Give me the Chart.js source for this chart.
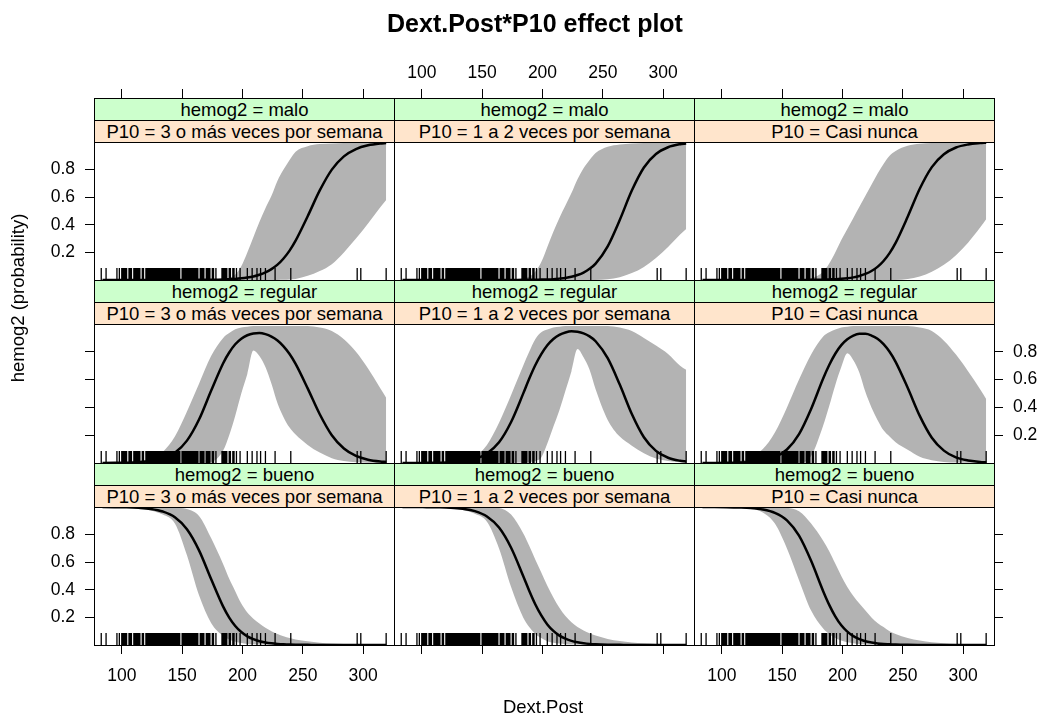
<!DOCTYPE html>
<html>
<head>
<meta charset="utf-8">
<title>Dext.Post*P10 effect plot</title>
<script src="https://cdn.jsdelivr.net/npm/chart.js@4.4.1/dist/chart.umd.min.js"></script>
<style>
    body { margin: 0; background: #fff; }
    #page {
        position: relative; width: 1044px; height: 721px; overflow: hidden; background: #fff;
        font-family: 'Liberation Sans', Arial, Helvetica, sans-serif; color: #000;
    }
    #page canvas { position: absolute; }
    .strip {
        position: absolute; box-sizing: border-box; border: 1px solid #000; text-align: center;
        font-size: 18.5px; line-height: 21px; white-space: nowrap; z-index: 2;
    }
    .strip.outer { background: #ccffcc; }
    .strip.inner { background: #ffe5cc; }
    #mainTitle {
        position: absolute; left: 285px; top: 8px; width: 500px; text-align: center;
        font-weight: bold; font-size: 25px; line-height: 30px; z-index: 3;
    }
    #xTitle {
        position: absolute; left: 393px; top: 696px; width: 300px; text-align: center;
        font-size: 18.5px; line-height: 22px; z-index: 3;
    }
    #yTitle {
        position: absolute; left: -132px; top: 287px; width: 300px; height: 22px; text-align: center;
        font-size: 18.5px; line-height: 22px; transform: rotate(-90deg); z-index: 3;
    }
</style>
</head>
<body>
<div id="page">
    <div id="mainTitle">Dext.Post*P10 effect plot</div>
    <div id="xTitle">Dext.Post</div>
    <div id="yTitle">hemog2 (probability)</div>
</div>
<script>
// Dext.Post values where the fitted probabilities were read
const dextPost = [84, 94, 104, 114, 124, 134, 144, 154, 164, 174, 184, 189, 194, 199, 204, 209, 214, 219, 224, 229, 234, 239, 244, 254, 264, 274, 284, 294, 304, 314, 319];

// observed Dext.Post values (rug)
const rugDextPost = [83, 87, 96, 98, 100, 101, 102, 103, 104, 106, 107, 108, 110, 111, 112, 113, 114, 115, 117, 118, 120, 121, 122,
    123, 124, 125, 126, 127, 128, 129, 130, 131, 132, 133, 134, 135, 136, 137, 138, 139, 140, 141, 142, 143, 144, 145, 146, 147, 148,
    150, 151, 152, 153, 154, 155, 156, 157, 158, 159, 160, 161, 162, 163, 165, 166, 167, 168, 170, 171, 172, 173, 175, 176, 178,
    183, 184, 185, 186, 187, 189, 190, 192, 193, 195, 198, 204, 208, 212, 215, 219, 227, 240, 295, 298, 319];

const xTicks = [100, 150, 200, 250, 300];
const yTicks = [0.2, 0.4, 0.6, 0.8];
const xLimits = [77, 325.5];
const yLimits = [0, 1];

const hemogLevels = ['malo', 'regular', 'bueno'];
const p10Levels = ['3 o más veces por semana', '1 a 2 veces por semana', 'Casi nunca'];

// hemog2 = malo
const fitMalo3mas = [0, 0, 0, 0, 0, 0, 0, 0, 0.001, 0.002, 0.004, 0.006, 0.008, 0.012, 0.018, 0.026, 0.038, 0.055, 0.079, 0.111, 0.156, 0.213, 0.285, 0.462, 0.649, 0.800, 0.896, 0.949, 0.976, 0.989, 0.992];
const lowerMalo3mas = [0, 0, 0, 0, 0, 0, 0, 0, 0, 0, 0, 0, 0, 0, 0, 0, 0, 0, 0, 0, 0.001, 0.004, 0.008, 0.03, 0.065, 0.115, 0.2, 0.3, 0.41, 0.525, 0.58];
const upperMalo3mas = [0, 0, 0, 0, 0, 0, 0, 0, 0.001, 0.003, 0.008, 0.015, 0.04, 0.1, 0.2, 0.31, 0.42, 0.52, 0.61, 0.72, 0.8, 0.87, 0.93, 0.97, 0.985, 0.99, 0.993, 0.995, 0.996, 0.997, 0.997];

const fitMalo1a2 = [0, 0, 0, 0, 0, 0, 0, 0, 0, 0, 0.001, 0.001, 0.002, 0.003, 0.004, 0.006, 0.01, 0.015, 0.023, 0.036, 0.054, 0.081, 0.119, 0.244, 0.435, 0.648, 0.815, 0.913, 0.962, 0.984, 0.989];
const lowerMalo1a2 = [0, 0, 0, 0, 0, 0, 0, 0, 0, 0, 0, 0, 0, 0, 0, 0, 0, 0, 0, 0, 0, 0, 0, 0.005, 0.02, 0.05, 0.095, 0.16, 0.24, 0.33, 0.37];
const upperMalo1a2 = [0, 0, 0, 0, 0, 0, 0, 0, 0, 0.002, 0.01, 0.025, 0.06, 0.13, 0.24, 0.35, 0.45, 0.54, 0.63, 0.73, 0.81, 0.87, 0.92, 0.965, 0.982, 0.99, 0.993, 0.995, 0.996, 0.997, 0.997];

const fitMaloCasi = [0, 0, 0, 0, 0, 0, 0, 0, 0, 0.001, 0.002, 0.004, 0.006, 0.009, 0.013, 0.019, 0.029, 0.044, 0.065, 0.095, 0.138, 0.195, 0.269, 0.458, 0.661, 0.818, 0.911, 0.96, 0.982, 0.992, 0.995];
const lowerMaloCasi = [0, 0, 0, 0, 0, 0, 0, 0, 0, 0, 0, 0, 0, 0, 0, 0, 0, 0, 0, 0, 0, 0, 0, 0.008, 0.025, 0.06, 0.11, 0.18, 0.27, 0.38, 0.44];
const upperMaloCasi = [0, 0, 0, 0, 0, 0, 0, 0, 0.002, 0.012, 0.06, 0.12, 0.2, 0.29, 0.37, 0.45, 0.53, 0.61, 0.69, 0.77, 0.84, 0.9, 0.935, 0.972, 0.987, 0.992, 0.994, 0.995, 0.996, 0.997, 0.997];

// hemog2 = regular
const fitRegular3mas = [0, 0.001, 0.002, 0.006, 0.014, 0.033, 0.074, 0.161, 0.313, 0.52, 0.718, 0.795, 0.854, 0.894, 0.919, 0.932, 0.935, 0.927, 0.909, 0.881, 0.839, 0.784, 0.713, 0.537, 0.351, 0.2, 0.104, 0.051, 0.024, 0.011, 0.008];
const lowerRegular3mas = [0, 0, 0, 0, 0, 0, 0, 0, 0, 0.008, 0.09, 0.2, 0.34, 0.5, 0.64, 0.81, 0.77, 0.69, 0.57, 0.43, 0.33, 0.255, 0.205, 0.13, 0.075, 0.035, 0.015, 0.006, 0.002, 0.001, 0];
const upperRegular3mas = [0, 0.002, 0.005, 0.012, 0.03, 0.08, 0.19, 0.37, 0.57, 0.77, 0.9, 0.935, 0.962, 0.975, 0.98, 0.985, 0.985, 0.985, 0.985, 0.985, 0.985, 0.985, 0.985, 0.985, 0.975, 0.95, 0.89, 0.8, 0.68, 0.54, 0.47];

const fitRegular1a2 = [0, 0, 0.001, 0.002, 0.005, 0.013, 0.03, 0.069, 0.149, 0.295, 0.499, 0.606, 0.703, 0.783, 0.847, 0.892, 0.922, 0.939, 0.947, 0.944, 0.933, 0.911, 0.876, 0.754, 0.564, 0.352, 0.185, 0.087, 0.038, 0.016, 0.011];
const lowerRegular1a2 = [0, 0, 0, 0, 0, 0, 0, 0, 0, 0, 0.003, 0.008, 0.015, 0.04, 0.14, 0.26, 0.38, 0.52, 0.66, 0.82, 0.76, 0.67, 0.53, 0.31, 0.19, 0.125, 0.07, 0.033, 0.015, 0.006, 0.004];
const upperRegular1a2 = [0, 0.001, 0.002, 0.004, 0.007, 0.017, 0.045, 0.13, 0.29, 0.49, 0.7, 0.8, 0.89, 0.94, 0.96, 0.975, 0.98, 0.985, 0.985, 0.985, 0.985, 0.985, 0.985, 0.985, 0.975, 0.95, 0.9, 0.845, 0.785, 0.7, 0.67];

const fitRegularCasi = [0, 0, 0.001, 0.003, 0.007, 0.018, 0.043, 0.097, 0.208, 0.389, 0.608, 0.705, 0.786, 0.848, 0.89, 0.917, 0.929, 0.929, 0.917, 0.894, 0.855, 0.8, 0.728, 0.541, 0.339, 0.182, 0.089, 0.04, 0.018, 0.008, 0.005];
const lowerRegularCasi = [0, 0, 0, 0, 0, 0, 0, 0, 0, 0.05, 0.27, 0.41, 0.56, 0.69, 0.79, 0.74, 0.65, 0.51, 0.4, 0.31, 0.235, 0.19, 0.15, 0.095, 0.045, 0.02, 0.008, 0.003, 0.001, 0, 0];
const upperRegularCasi = [0, 0.002, 0.005, 0.012, 0.04, 0.1, 0.22, 0.4, 0.6, 0.78, 0.91, 0.94, 0.96, 0.975, 0.98, 0.985, 0.985, 0.985, 0.985, 0.985, 0.985, 0.985, 0.985, 0.985, 0.975, 0.95, 0.88, 0.78, 0.66, 0.53, 0.46];

// hemog2 = bueno
const fitBueno3mas = [1, 0.999, 0.998, 0.994, 0.986, 0.967, 0.926, 0.839, 0.686, 0.478, 0.278, 0.199, 0.138, 0.094, 0.063, 0.042, 0.027, 0.018, 0.012, 0.008, 0.005, 0.003, 0.002, 0.001, 0, 0, 0, 0, 0, 0, 0];
const lowerBueno3mas = [1, 0.998, 0.995, 0.99, 0.975, 0.945, 0.88, 0.65, 0.36, 0.16, 0.065, 0.04, 0.023, 0.014, 0.008, 0.005, 0.003, 0.002, 0.001, 0, 0, 0, 0, 0, 0, 0, 0, 0, 0, 0, 0];
const upperBueno3mas = [1, 1, 1, 1, 0.999, 0.999, 0.997, 0.985, 0.935, 0.775, 0.585, 0.48, 0.39, 0.3, 0.235, 0.19, 0.155, 0.125, 0.1, 0.08, 0.063, 0.05, 0.04, 0.027, 0.017, 0.011, 0.007, 0.004, 0.003, 0.002, 0.001];

const fitBueno1a2 = [1, 1, 0.999, 0.998, 0.995, 0.987, 0.97, 0.931, 0.851, 0.705, 0.5, 0.393, 0.295, 0.214, 0.149, 0.102, 0.068, 0.046, 0.03, 0.02, 0.013, 0.008, 0.005, 0.002, 0.001, 0, 0, 0, 0, 0, 0];
const lowerBueno1a2 = [1, 0.999, 0.997, 0.995, 0.99, 0.978, 0.951, 0.893, 0.7, 0.42, 0.2, 0.13, 0.08, 0.05, 0.028, 0.017, 0.01, 0.006, 0.003, 0.002, 0.001, 0, 0, 0, 0, 0, 0, 0, 0, 0, 0];
const upperBueno1a2 = [1, 1, 1, 1, 1, 1, 1, 0.999, 0.993, 0.945, 0.81, 0.72, 0.62, 0.525, 0.43, 0.345, 0.27, 0.21, 0.165, 0.13, 0.105, 0.085, 0.068, 0.044, 0.029, 0.019, 0.012, 0.008, 0.005, 0.003, 0.002];

const fitBuenoCasi = [1, 1, 0.999, 0.997, 0.993, 0.982, 0.957, 0.903, 0.792, 0.61, 0.39, 0.291, 0.208, 0.143, 0.097, 0.064, 0.042, 0.027, 0.018, 0.011, 0.007, 0.005, 0.003, 0.001, 0, 0, 0, 0, 0, 0, 0];
const lowerBuenoCasi = [1, 0.999, 0.997, 0.993, 0.985, 0.96, 0.88, 0.7, 0.47, 0.25, 0.12, 0.08, 0.05, 0.032, 0.02, 0.012, 0.007, 0.004, 0.002, 0.001, 0, 0, 0, 0, 0, 0, 0, 0, 0, 0, 0];
const upperBuenoCasi = [1, 1, 1, 1, 1, 1, 1, 0.995, 0.97, 0.88, 0.755, 0.68, 0.59, 0.5, 0.42, 0.355, 0.3, 0.25, 0.2, 0.16, 0.13, 0.1, 0.08, 0.05, 0.032, 0.02, 0.013, 0.008, 0.005, 0.003, 0.002];

// one row of panels per hemog2 level, one column per P10 level
const panelRows = [
    { fits: [fitMalo3mas, fitMalo1a2, fitMaloCasi], lowers: [lowerMalo3mas, lowerMalo1a2, lowerMaloCasi], uppers: [upperMalo3mas, upperMalo1a2, upperMaloCasi] },
    { fits: [fitRegular3mas, fitRegular1a2, fitRegularCasi], lowers: [lowerRegular3mas, lowerRegular1a2, lowerRegularCasi], uppers: [upperRegular3mas, upperRegular1a2, upperRegularCasi] },
    { fits: [fitBueno3mas, fitBueno1a2, fitBuenoCasi], lowers: [lowerBueno3mas, lowerBueno1a2, lowerBuenoCasi], uppers: [upperBueno3mas, upperBueno1a2, upperBuenoCasi] }
];

// layout (pixels)
const cellLeft0 = 94;
const cellWidth = 300;
const cellTop0 = 98;
const cellHeight = 182.33;
const stripHeight = 22;
const margin = 70;
const tickLength = 9;
const rugLength = 12;

Chart.defaults.font.family = "'Liberation Sans', Arial, Helvetica, sans-serif";
Chart.defaults.color = '#000';

const page = document.getElementById('page');

function toPoints(values) {
    return dextPost.map((x, i) => ({ x: x, y: values[i] }));
}

// rug of observed values along the bottom of each panel
const rugPlugin = {
    id: 'rug',
    afterDatasetsDraw(chart) {
        const ctx = chart.ctx;
        const xScale = chart.scales.x;
        const bottom = chart.chartArea.bottom;
        ctx.save();
        ctx.strokeStyle = '#000';
        ctx.lineWidth = 1.3;
        ctx.beginPath();
        rugDextPost.forEach(v => {
            const px = xScale.getPixelForValue(v);
            ctx.moveTo(px, bottom);
            ctx.lineTo(px, bottom - rugLength);
        });
        ctx.stroke();
        ctx.restore();
    }
};

function makeAxis(position, limits, tickValues, showTicks, showLabels) {
    const horizontal = position === 'top' || position === 'bottom';
    return {
        type: 'linear',
        position: position,
        min: limits[0],
        max: limits[1],
        afterBuildTicks: function(scale) {
            scale.ticks = tickValues.map(v => ({ value: v }));
        },
        afterFit: function(scale) {
            if (horizontal) scale.height = margin;
            else scale.width = margin;
        },
        grid: {
            display: showTicks,
            drawOnChartArea: false,
            drawTicks: true,
            tickLength: tickLength,
            color: '#000',
            lineWidth: 1
        },
        border: { display: true, color: '#000', width: 1 },
        ticks: {
            display: showLabels,
            color: '#000',
            font: { size: 17.5 },
            padding: position === 'top' ? 5 : (position === 'bottom' ? 12 : 10),
            autoSkip: false,
            maxRotation: 0,
            minRotation: 0
        }
    };
}

function makeStrip(cls, text, left, top) {
    const div = document.createElement('div');
    div.className = 'strip ' + cls;
    div.style.left = left + 'px';
    div.style.top = top + 'px';
    div.style.width = (cellWidth + 1) + 'px';
    div.style.height = (stripHeight + 1) + 'px';
    div.textContent = text;
    page.appendChild(div);
}

function makePanel(row, col) {
    const top = Math.round(cellTop0 + row * cellHeight);
    const bottom = Math.round(cellTop0 + (row + 1) * cellHeight);
    const left = cellLeft0 + col * cellWidth;
    const h = bottom - top;
    const panelH = h - 2 * stripHeight;
    // the chart area spans strips + panel, so stretch the y range over the strips
    const yChartMax = yLimits[0] + (yLimits[1] - yLimits[0]) * h / panelH;

    const canvas = document.createElement('canvas');
    canvas.width = cellWidth + 2 * margin;
    canvas.height = h + 2 * margin;
    canvas.style.left = (left - margin) + 'px';
    canvas.style.top = (top - margin) + 'px';
    canvas.style.width = canvas.width + 'px';
    canvas.style.height = canvas.height + 'px';
    page.appendChild(canvas);

    const data = panelRows[row];

    new Chart(canvas.getContext('2d'), {
        type: 'line',
        data: {
            datasets: [
                {
                    data: toPoints(data.fits[col]),
                    borderColor: '#000',
                    borderWidth: 2.5,
                    pointRadius: 0,
                    fill: false,
                    cubicInterpolationMode: 'monotone'
                },
                {
                    data: toPoints(data.uppers[col]),
                    borderColor: 'rgba(0,0,0,0)',
                    borderWidth: 0,
                    pointRadius: 0,
                    backgroundColor: '#b3b3b3',
                    fill: '+1',
                    cubicInterpolationMode: 'monotone'
                },
                {
                    data: toPoints(data.lowers[col]),
                    borderColor: 'rgba(0,0,0,0)',
                    borderWidth: 0,
                    pointRadius: 0,
                    fill: false,
                    cubicInterpolationMode: 'monotone'
                }
            ]
        },
        options: {
            responsive: false,
            maintainAspectRatio: false,
            devicePixelRatio: 1,
            animation: false,
            events: [],
            layout: { padding: 0 },
            plugins: {
                legend: { display: false },
                tooltip: { enabled: false },
                title: { display: false }
            },
            scales: {
                x: makeAxis('bottom', xLimits, xTicks, row === 2, row === 2 && col !== 1),
                x2: makeAxis('top', xLimits, xTicks, row === 0, row === 0 && col === 1),
                y: makeAxis('left', [yLimits[0], yChartMax], yTicks, col === 0, col === 0 && row !== 1),
                y2: makeAxis('right', [yLimits[0], yChartMax], yTicks, col === 2, col === 2 && row === 1)
            }
        },
        plugins: [rugPlugin]
    });

    makeStrip('outer', 'hemog2 = ' + hemogLevels[row], left, top);
    makeStrip('inner', 'P10 = ' + p10Levels[col], left, top + stripHeight);
}

for (let row = 0; row < 3; row++) {
    for (let col = 0; col < 3; col++) {
        makePanel(row, col);
    }
}
</script>
</body>
</html>
